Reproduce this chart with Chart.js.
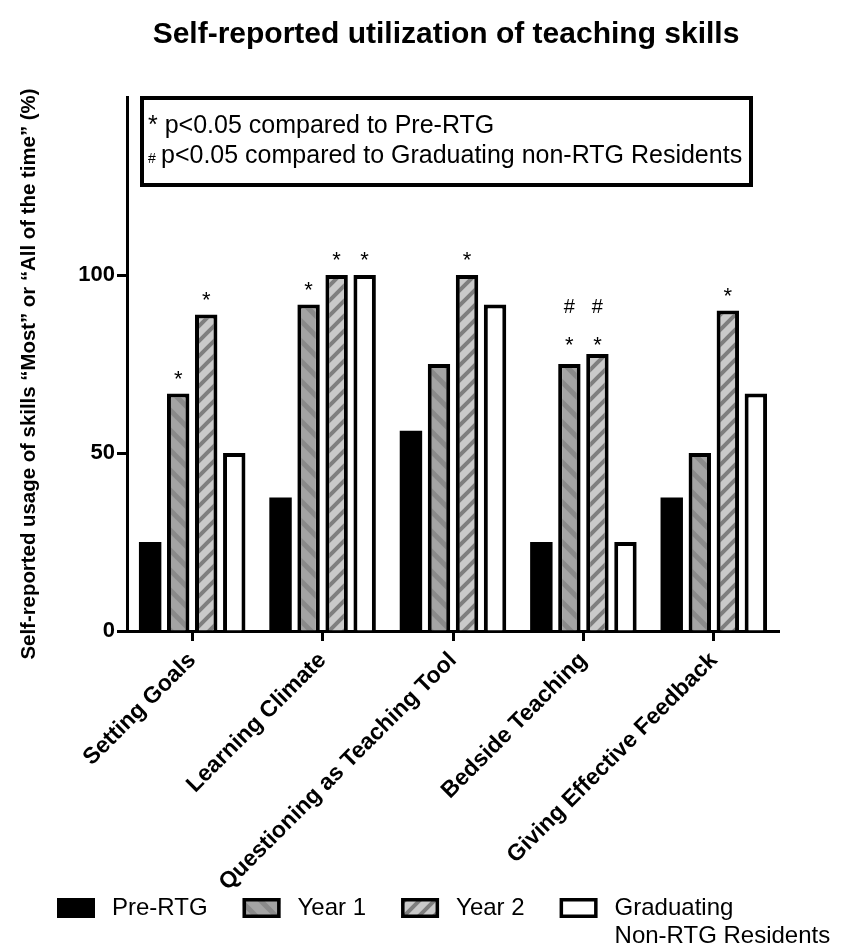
<!DOCTYPE html>
<html>
<head>
<meta charset="utf-8">
<script src="https://cdn.jsdelivr.net/npm/chart.js@4"></script>
<style>
  html, body { margin: 0; padding: 0; background: #fff; }
</style>
</head>
<body>
<canvas id="grafico" width="844" height="948"></canvas>
<script>
const titulo = "Self-reported utilization of teaching skills";
const tituloY = "Self-reported usage of skills \u201cMost\u201d or \u201cAll of the time\u201d (%)";
const categorias = ["Setting Goals", "Learning Climate", "Questioning as Teaching Tool", "Bedside Teaching", "Giving Effective Feedback"];
const series = ["Pre-RTG", "Year 1", "Year 2", "Graduating Non-RTG Residents"];
const preRTG = [25, 37.5, 56.25, 25, 37.5];
const ano1 = [66.7, 91.7, 75, 75, 50];
const ano2 = [88.9, 100, 100, 77.8, 90];
const graduando = [50, 100, 91.7, 25, 66.7];
const ticksY = [0, 50, 100];
// marcas de significancia, uma linha por serie
const asterisco = [[0,0,0,0,0], [1,1,0,1,0], [1,1,1,1,1], [0,1,0,0,0]];
const cerquilha = [[0,0,0,0,0], [0,0,0,1,0], [0,0,0,1,0], [0,0,0,0,0]];
const notas = ["* p<0.05 compared to Pre-RTG", "p<0.05 compared to Graduating non-RTG Residents"];
const legendas = [["Pre-RTG"], ["Year 1"], ["Year 2"], ["Graduating", "Non-RTG Residents"]];

const fonte = '"Liberation Sans", Arial, sans-serif';
Chart.defaults.font.family = fonte;
Chart.defaults.color = '#000';

const canvas = document.getElementById("grafico");
const ctx = canvas.getContext("2d");

// hachuras diagonais
function listras(base, cor, tam, larg, barra) {
  const c = document.createElement("canvas");
  c.width = tam; c.height = tam;
  const g = c.getContext("2d");
  g.fillStyle = base;
  g.fillRect(0, 0, tam, tam);
  g.strokeStyle = cor;
  g.lineWidth = larg;
  g.beginPath();
  if (barra === "/") {
    g.moveTo(-tam, tam); g.lineTo(tam, -tam);
    g.moveTo(0, tam); g.lineTo(tam, 0);
    g.moveTo(0, 2 * tam); g.lineTo(2 * tam, 0);
  } else {
    g.moveTo(0, 0); g.lineTo(tam, tam);
    g.moveTo(-tam, 0); g.lineTo(tam, 2 * tam);
    g.moveTo(0, -tam); g.lineTo(2 * tam, tam);
  }
  g.stroke();
  return ctx.createPattern(c, "repeat");
}

const padraoAno1 = listras("#a4a4a4", "#8a8a8a", 20, 5, "\\");
const padraoAno2 = listras("#cacaca", "#7e7e7e", 15, 4, "/");

const extras = {
  id: "extras",
  afterDraw(chart) {
    const c = chart.ctx;
    c.save();
    c.fillStyle = "#000";

    // titulo
    c.font = "bold 30px " + fonte;
    c.textAlign = "center";
    c.textBaseline = "alphabetic";
    c.fillText(titulo, 446, 43);

    // titulo do eixo y
    c.save();
    c.translate(29, 374);
    c.rotate(-Math.PI / 2);
    c.font = "bold 20.4px " + fonte;
    c.textBaseline = "middle";
    c.fillText(tituloY, 0, 0);
    c.restore();

    // caixa de notas
    c.lineWidth = 4;
    c.strokeStyle = "#000";
    c.strokeRect(142, 98, 609, 87);
    c.textAlign = "left";
    c.font = "25px " + fonte;
    c.fillText(notas[0], 148, 133);
    c.font = "14px " + fonte;
    c.fillText("#", 148, 163);
    c.font = "25px " + fonte;
    c.fillText(notas[1], 161, 163);

    // asteriscos e cerquilhas
    c.textAlign = "center";
    for (let j = 0; j < categorias.length; j++) {
      const temHash = cerquilha.some(s => s[j]);
      const marcados = [0, 1, 2, 3].filter(i => asterisco[i][j] || cerquilha[i][j]);
      if (!marcados.length) continue;
      const topo = Math.min(...marcados.map(i => chart.getDatasetMeta(i).data[j].y));
      marcados.forEach(i => {
        const barra = chart.getDatasetMeta(i).data[j];
        const base = temHash ? topo + 6 : barra.y;
        if (asterisco[i][j]) {
          c.font = "22px " + fonte;
          c.fillText("*", barra.x, base - 8);
        }
        if (cerquilha[i][j]) {
          c.font = "20px " + fonte;
          c.fillText("#", barra.x, base - 47);
        }
      });
    }

    // legenda
    let x = 57;
    const yc = 908;
    c.textAlign = "left";
    c.textBaseline = "middle";
    legendas.forEach((linhas, i) => {
      const ds = chart.data.datasets[i];
      c.fillStyle = ds.backgroundColor;
      c.fillRect(x, yc - 10, 38, 20);
      if (ds.borderWidth) {
        c.lineWidth = 3.5;
        c.strokeStyle = "#000";
        c.strokeRect(x + 1.75, yc - 8.25, 34.5, 16.5);
      }
      c.fillStyle = "#000";
      c.font = "24px " + fonte;
      linhas.forEach((t, k) => c.fillText(t, x + 55, yc + k * 28));
      x += 55 + Math.max(...linhas.map(t => c.measureText(t).width)) + 35;
    });
    c.restore();
  }
};

new Chart(ctx, {
  type: "bar",
  data: {
    labels: categorias,
    datasets: [
      { label: series[0], data: preRTG, backgroundColor: "#000", borderWidth: 0 },
      { label: series[1], data: ano1, backgroundColor: padraoAno1, borderColor: "#000", borderWidth: 4 },
      { label: series[2], data: ano2, backgroundColor: padraoAno2, borderColor: "#000", borderWidth: 4 },
      { label: series[3], data: graduando, backgroundColor: "#fff", borderColor: "#000", borderWidth: 4 }
    ]
  },
  options: {
    responsive: false,
    animation: false,
    devicePixelRatio: 1,
    categoryPercentage: 0.86,
    barPercentage: 0.8,
    layout: { padding: { top: 97, right: 65, left: 0, bottom: 0 } },
    plugins: {
      legend: { display: false },
      title: { display: false },
      tooltip: { enabled: false }
    },
    scales: {
      x: {
        grid: { display: true, drawOnChartArea: false, offset: false, tickLength: 10, tickWidth: 3, tickColor: "#000" },
        border: { display: true, color: "#000", width: 3 },
        ticks: {
          maxRotation: 45, minRotation: 45, padding: 6,
          font: { size: 23, weight: "bold" }, color: "#000"
        },
        afterFit(scale) { scale.height = 948 - 631; }
      },
      y: {
        min: 0, max: 150,
        grid: { display: true, drawOnChartArea: false, tickLength: 10, tickWidth: 3, tickColor: "#000" },
        border: { display: true, color: "#000", width: 3 },
        ticks: { stepSize: 50, padding: 2, font: { size: 22, weight: "bold" }, color: "#000" },
        afterBuildTicks(scale) {
          scale.ticks = ticksY.map(v => ({ value: v }));
        },
        afterFit(scale) { scale.width = 127; }
      }
    }
  },
  plugins: [extras]
});
</script>
</body>
</html>
